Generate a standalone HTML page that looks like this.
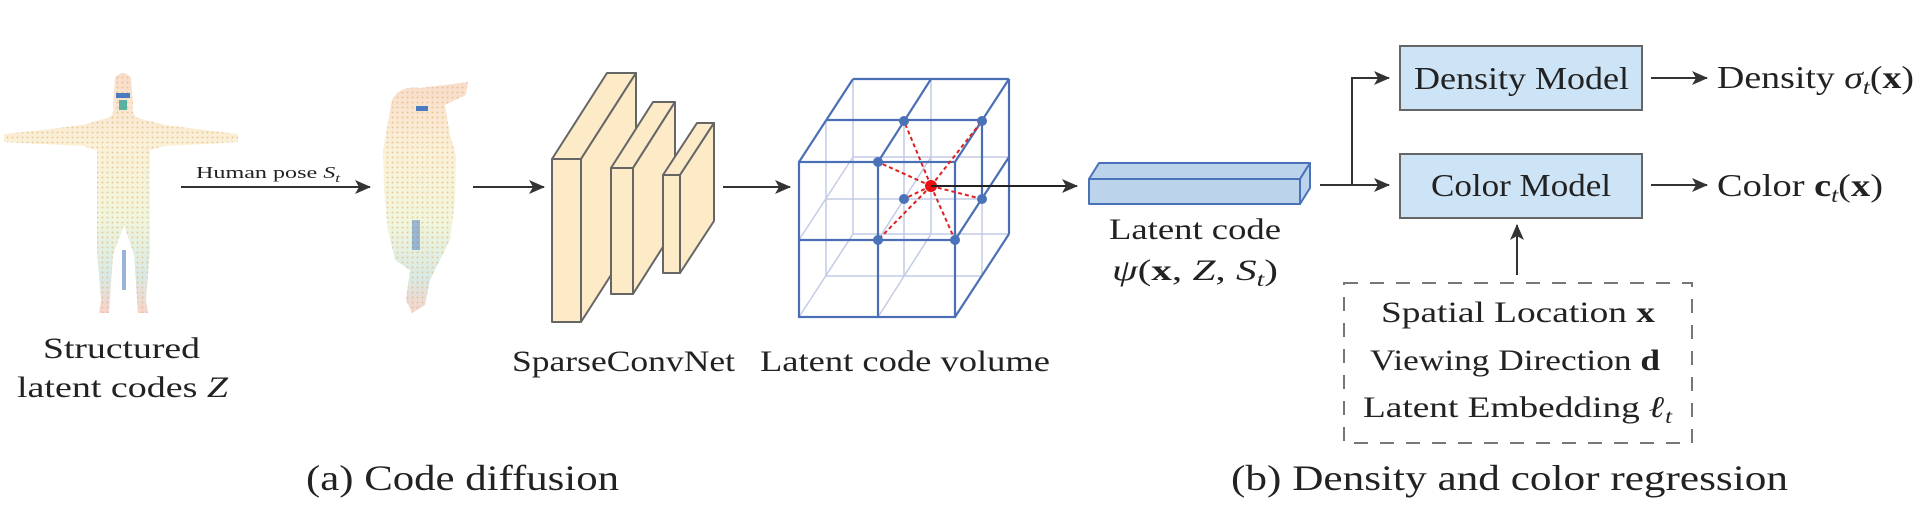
<!DOCTYPE html>
<html><head><meta charset="utf-8"><style>
html,body{margin:0;padding:0;background:#fff;width:1921px;height:526px;overflow:hidden}
svg{display:block}
text{font-family:"Liberation Serif",serif;fill:#222}
</style></head><body>
<svg width="1921" height="526" viewBox="0 0 1921 526">
<defs>
<marker id="ah2" markerWidth="16" markerHeight="14" refX="15" refY="7" orient="auto" markerUnits="userSpaceOnUse" viewBox="0 0 16 14">
<path d="M0,0 L16,7 L0,14 L4,7 Z" fill="#333"/></marker>
<pattern id="dots" width="5" height="5" patternUnits="userSpaceOnUse">
<circle cx="2.5" cy="2.5" r="1" fill="#e0b070"/></pattern>
<linearGradient id="bodyg" x1="0" y1="0" x2="0" y2="1">
<stop offset="0" stop-color="#f3c0a0"/><stop offset="0.3" stop-color="#f7e6b8"/><stop offset="0.6" stop-color="#e6efc0"/><stop offset="0.85" stop-color="#b8d8d0"/><stop offset="1" stop-color="#f0b0a0"/></linearGradient>
</defs>

<g>
<path d="M115,78 Q123,68 131,78 L133,105 Q131,115 138,118 L165,125 L205,130 L238,134 L238,142 L205,144 L165,146 L150,150 L150,215 L150,250 L146,300 L148,313 L138,313 L134,255 L124,225 L113,255 L109,313 L99,313 L101,300 L97,250 L97,215 L97,150 L82,146 L42,144 L4,142 L4,134 L42,130 L82,125 L108,118 Q115,115 113,105 Z" fill="url(#bodyg)" opacity="0.55"/>
<path d="M115,78 Q123,68 131,78 L133,105 Q131,115 138,118 L165,125 L205,130 L238,134 L238,142 L205,144 L165,146 L150,150 L150,215 L150,250 L146,300 L148,313 L138,313 L134,255 L124,225 L113,255 L109,313 L99,313 L101,300 L97,250 L97,215 L97,150 L82,146 L42,144 L4,142 L4,134 L42,130 L82,125 L108,118 Q115,115 113,105 Z" fill="url(#dots)" opacity="0.6"/>
<rect x="116" y="93" width="14" height="5" fill="#4a7ac0"/>
<rect x="119" y="100" width="8" height="10" fill="#5ab0a0"/>
<rect x="122" y="250" width="4" height="40" fill="#5a80c0" opacity="0.6"/>
</g>
<g>
<path d="M392,100 Q400,85 420,88 L445,85 L468,82 L466,95 L445,105 L450,135 L456,155 L455,200 L450,240 L440,260 L430,280 L425,305 L412,313 L406,300 L410,270 L395,260 L388,230 L384,190 L383,150 Z" fill="url(#bodyg)" opacity="0.55"/>
<path d="M392,100 Q400,85 420,88 L445,85 L468,82 L466,95 L445,105 L450,135 L456,155 L455,200 L450,240 L440,260 L430,280 L425,305 L412,313 L406,300 L410,270 L395,260 L388,230 L384,190 L383,150 Z" fill="url(#dots)" opacity="0.6"/>
<rect x="416" y="106" width="12" height="5" fill="#4a7ac0"/>
<rect x="412" y="220" width="8" height="30" fill="#4a7ac0" opacity="0.5"/>
</g>

<line x1="181" y1="187" x2="370" y2="187" stroke="#333" stroke-width="2" marker-end="url(#ah2)"/>
<text x="196" y="178" font-size="17" textLength="144" lengthAdjust="spacingAndGlyphs">Human pose <tspan font-style="italic">S</tspan><tspan font-style="italic" font-size="12" dy="4">t</tspan></text>
<line x1="473" y1="187" x2="544" y2="187" stroke="#333" stroke-width="2" marker-end="url(#ah2)"/>

<g fill="#fcebc6" stroke="#666" stroke-width="2" stroke-linejoin="round">
<path d="M552,159 L607,73 L636,73 L581,159 Z"/><path d="M581,159 L636,73 L636,236 L581,322 Z"/><rect x="552" y="159" width="29" height="163"/>
<path d="M611,168 L653,102 L675,102 L633,168 Z"/><path d="M633,168 L675,102 L675,228 L633,294 Z"/><rect x="611" y="168" width="22" height="126"/>
<path d="M663,175 L697,123 L714,123 L680,175 Z"/><path d="M680,175 L714,123 L714,221 L680,273 Z"/><rect x="663" y="175" width="17" height="98"/>
</g>
<line x1="723" y1="187" x2="790" y2="187" stroke="#333" stroke-width="2" marker-end="url(#ah2)"/>

<g fill="none">
<g stroke="#c4cbe6" stroke-width="1.5">
<line x1="853" y1="79" x2="853" y2="234"/><line x1="931" y1="79" x2="931" y2="234"/>
<line x1="826" y1="120" x2="826" y2="276"/><line x1="904" y1="120" x2="904" y2="276"/>
<line x1="853" y1="234" x2="1009" y2="234"/><line x1="826" y1="276" x2="982" y2="276"/>
<line x1="853" y1="157" x2="1009" y2="157"/><line x1="826" y1="199" x2="982" y2="199"/>
<line x1="853" y1="234" x2="799" y2="317"/><line x1="931" y1="234" x2="878" y2="317"/>
<line x1="853" y1="157" x2="799" y2="240"/><line x1="931" y1="157" x2="878" y2="240"/>
<line x1="982" y1="199" x2="982" y2="276"/>
</g>
<g stroke="#4a6fb5" stroke-width="2.2">
<rect x="799" y="162" width="156" height="155"/>
<line x1="878" y1="162" x2="878" y2="317"/><line x1="799" y1="240" x2="955" y2="240"/>
<line x1="853" y1="79" x2="1009" y2="79"/><line x1="1009" y1="79" x2="1009" y2="234"/>
<line x1="799" y1="162" x2="853" y2="79"/><line x1="878" y1="162" x2="931" y2="79"/><line x1="955" y1="162" x2="1009" y2="79"/>
<line x1="955" y1="317" x2="1009" y2="234"/><line x1="955" y1="240" x2="1009" y2="157"/>
<line x1="826" y1="120" x2="982" y2="120"/><line x1="982" y1="120" x2="982" y2="199"/>
</g>
<g stroke="#e02020" stroke-width="2" stroke-dasharray="4,3">
<line x1="931" y1="186" x2="904" y2="121"/><line x1="931" y1="186" x2="982" y2="121"/>
<line x1="931" y1="186" x2="878" y2="162"/><line x1="931" y1="186" x2="904" y2="199"/>
<line x1="931" y1="186" x2="982" y2="199"/><line x1="931" y1="186" x2="878" y2="240"/>
<line x1="931" y1="186" x2="955" y2="240"/>
</g>
<g fill="#4a72b8">
<circle cx="904" cy="121" r="5"/><circle cx="982" cy="121" r="5"/><circle cx="878" cy="162" r="5"/>
<circle cx="904" cy="199" r="5"/><circle cx="982" cy="199" r="5"/><circle cx="878" cy="240" r="5"/><circle cx="955" cy="240" r="5"/>
</g>
<circle cx="931" cy="186" r="6" fill="#e81010"/>
</g>
<line x1="931" y1="186" x2="1077" y2="186" stroke="#222" stroke-width="2" marker-end="url(#ah2)"/>

<g fill="#bcd3ec" stroke="#4a72b8" stroke-width="2" stroke-linejoin="round">
<path d="M1089,179 L1099,163 L1310,163 L1300,179 Z"/>
<path d="M1300,179 L1310,163 L1310,188 L1300,204 Z"/>
<rect x="1089" y="179" width="211" height="25"/>
</g>
<text x="1109" y="239" font-size="30" textLength="172" lengthAdjust="spacingAndGlyphs">Latent code</text>
<text x="1112" y="280" font-size="30" textLength="166" lengthAdjust="spacingAndGlyphs"><tspan font-style="italic">ψ</tspan>(<tspan font-weight="bold">x</tspan>, <tspan font-style="italic">Z</tspan>, <tspan font-style="italic">S</tspan><tspan font-style="italic" font-size="20" dy="6">t</tspan><tspan dy="-6">)</tspan></text>

<g stroke="#333" stroke-width="2" fill="none">
<polyline points="1320,185 1352,185 1352,78 1389,78" marker-end="url(#ah2)"/>
<line x1="1352" y1="185" x2="1389" y2="185" marker-end="url(#ah2)"/>
<line x1="1651" y1="78" x2="1707" y2="78" marker-end="url(#ah2)"/>
<line x1="1651" y1="185" x2="1707" y2="185" marker-end="url(#ah2)"/>
<line x1="1517" y1="275" x2="1517" y2="225" marker-end="url(#ah2)"/>
</g>
<rect x="1400" y="46" width="242" height="64" fill="#cde3f6" stroke="#666" stroke-width="2"/>
<text x="1414" y="89" font-size="32" textLength="215" lengthAdjust="spacingAndGlyphs">Density Model</text>
<rect x="1400" y="154" width="242" height="64" fill="#cde3f6" stroke="#666" stroke-width="2"/>
<text x="1431" y="196" font-size="32" textLength="180" lengthAdjust="spacingAndGlyphs">Color Model</text>
<text x="1717" y="88" font-size="32" textLength="197" lengthAdjust="spacingAndGlyphs">Density <tspan font-style="italic">σ</tspan><tspan font-style="italic" font-size="21" dy="6">t</tspan><tspan dy="-6">(</tspan><tspan font-weight="bold">x</tspan>)</text>
<text x="1717" y="196" font-size="32" textLength="166" lengthAdjust="spacingAndGlyphs">Color <tspan font-weight="bold">c</tspan><tspan font-style="italic" font-size="21" dy="6">t</tspan><tspan dy="-6">(</tspan><tspan font-weight="bold">x</tspan>)</text>

<rect x="1344" y="283" width="348" height="160" fill="none" stroke="#777" stroke-width="2" stroke-dasharray="14,12"/>
<text x="1381" y="322" font-size="30" textLength="274" lengthAdjust="spacingAndGlyphs">Spatial Location <tspan font-weight="bold">x</tspan></text>
<text x="1370" y="370" font-size="30" textLength="290" lengthAdjust="spacingAndGlyphs">Viewing Direction <tspan font-weight="bold">d</tspan></text>
<text x="1363" y="417" font-size="30" textLength="309" lengthAdjust="spacingAndGlyphs">Latent Embedding <tspan font-weight="bold" font-style="italic">ℓ</tspan><tspan font-style="italic" font-size="20" dy="6">t</tspan></text>

<text x="43" y="358" font-size="30" textLength="157" lengthAdjust="spacingAndGlyphs">Structured</text>
<text x="17" y="397" font-size="30" textLength="211" lengthAdjust="spacingAndGlyphs">latent codes <tspan font-style="italic">Z</tspan></text>
<text x="512" y="371" font-size="30" textLength="223" lengthAdjust="spacingAndGlyphs">SparseConvNet</text>
<text x="760" y="371" font-size="30" textLength="290" lengthAdjust="spacingAndGlyphs">Latent code volume</text>
<text x="306" y="490" font-size="36" textLength="313" lengthAdjust="spacingAndGlyphs">(a) Code diffusion</text>
<text x="1231" y="490" font-size="36" textLength="557" lengthAdjust="spacingAndGlyphs">(b) Density and color regression</text>
</svg>
</body></html>
